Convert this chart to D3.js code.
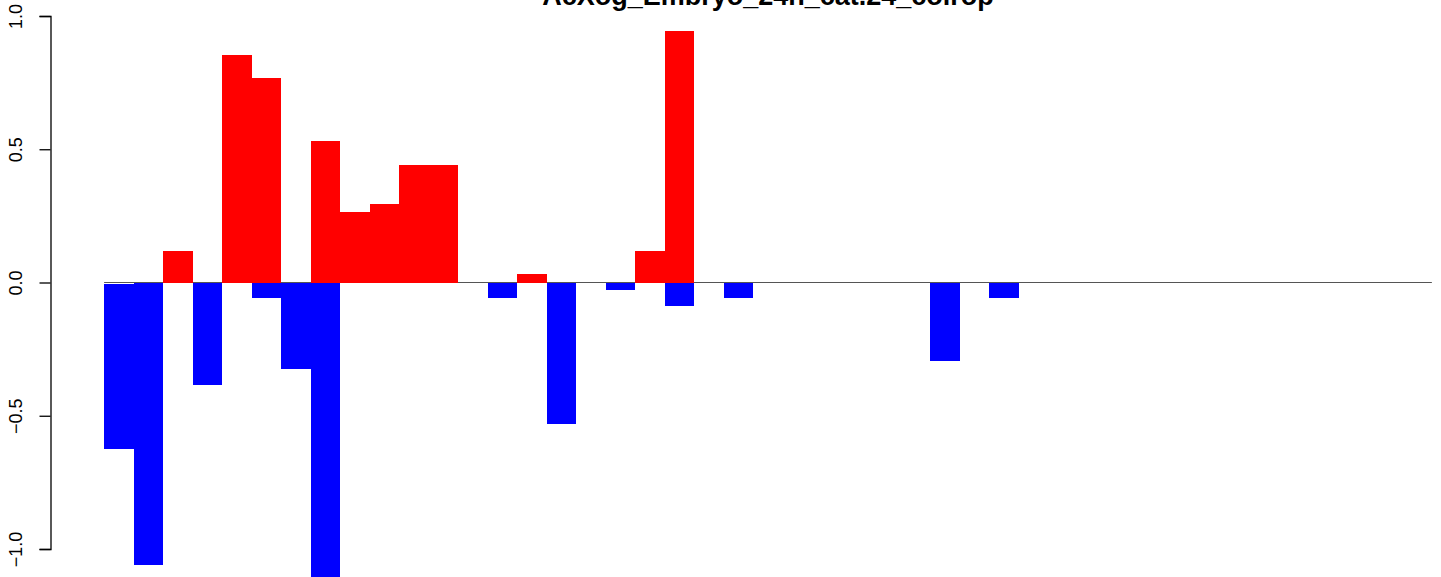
<!DOCTYPE html>
<html>
<head>
<meta charset="utf-8">
<script src="https://cdn.jsdelivr.net/npm/d3@7"></script>
<style>
    body { margin: 0; background: #fff; }
    svg { display: block; }
</style>
</head>
<body>
<svg id="chart" width="1441" height="577"></svg>
<script>
// one value per bar position, 45 positions, space = 0
const upValues = [
    0, 0, 0.12, 0, 0.854, 0.767, 0, 0.531, 0.264, 0.295,
    0.441, 0.441, 0, 0, 0.032, 0, 0, 0, 0.118, 0.944,
    0, 0, 0, 0, 0, 0, 0, 0, 0, 0,
    0, 0, 0, 0, 0, 0, 0, 0, 0, 0,
    0, 0, 0, 0, 0
];
const downValues = [
    -0.621, -1.06, 0, -0.385, 0, -0.058, -0.325, -1.12, 0, 0,
    0, 0, 0, -0.06, 0, -0.53, 0, -0.03, 0, -0.088,
    0, -0.06, 0, 0, 0, 0, 0, 0, -0.295, 0,
    -0.06, 0, 0, 0, 0, 0, 0, 0, 0, 0,
    0, 0, 0, 0, 0
];
const yTicks = [-1, -0.5, 0, 0.5, 1];
const title = 'AcXog_Embryo_24h_cat.24_colrop';

const svg = d3.select('#chart');
const n = upValues.length;

// R barplot style: 4% padding on the x range
const pad = n * 0.04;
const x = d3.scaleLinear().domain([-pad, n + pad]).range([51, 1485]);
const y = d3.scaleLinear().domain([-1, 1]).range([549, 16]);

// zero line, under the bars
svg.append('line')
    .attr('x1', x(0)).attr('x2', x(n))
    .attr('y1', y(0)).attr('y2', y(0))
    .attr('stroke', '#555')
    .attr('stroke-width', 1);

const idx = d3.range(n);

svg.append('g').selectAll('rect')
    .data(idx.filter((i) => upValues[i] > 0))
    .join('rect')
    .attr('x', (i) => x(i))
    .attr('width', (i) => x(i + 1) - x(i))
    .attr('y', (i) => y(upValues[i]))
    .attr('height', (i) => y(0) - y(upValues[i]))
    .attr('fill', '#ff0000')
    .attr('shape-rendering', 'crispEdges');

svg.append('g').selectAll('rect')
    .data(idx.filter((i) => downValues[i] < 0))
    .join('rect')
    .attr('x', (i) => x(i))
    .attr('width', (i) => x(i + 1) - x(i))
    .attr('y', (i) => y(0) + (i === 0 ? 1 : 0))
    .attr('height', (i) => y(downValues[i]) - y(0))
    .attr('fill', '#0000ff')
    .attr('shape-rendering', 'crispEdges');

// left axis, labels turned parallel to the axis like R
const axis = d3.axisLeft(y)
    .tickValues(yTicks)
    .tickSize(11)
    .tickFormat((d) => d3.format('.1f')(d).replace('-', '\u2212'));

const gAxis = svg.append('g')
    .attr('transform', 'translate(50.5,0)')
    .call(axis);
gAxis.select('.domain').attr('stroke', '#000').attr('stroke-width', 1.3);
gAxis.selectAll('.tick line').attr('stroke', '#000').attr('stroke-width', 1.3);
gAxis.selectAll('.tick text')
    .attr('fill', '#000')
    .attr('font-family', 'Liberation Sans, Arial, sans-serif')
    .attr('font-size', 18)
    .attr('text-anchor', 'middle')
    .attr('dy', null)
    .attr('x', 0)
    .attr('y', 0)
    .attr('transform', 'translate(-29,0) rotate(-90)');

// title, clipped by the top of the page
svg.append('text')
    .attr('x', (x(-pad) + x(n + pad)) / 2)
    .attr('y', 5)
    .attr('text-anchor', 'middle')
    .attr('font-family', 'Liberation Sans, Arial, sans-serif')
    .attr('font-weight', 'bold')
    .attr('font-size', 27)
    .text(title);
</script>
</body>
</html>
